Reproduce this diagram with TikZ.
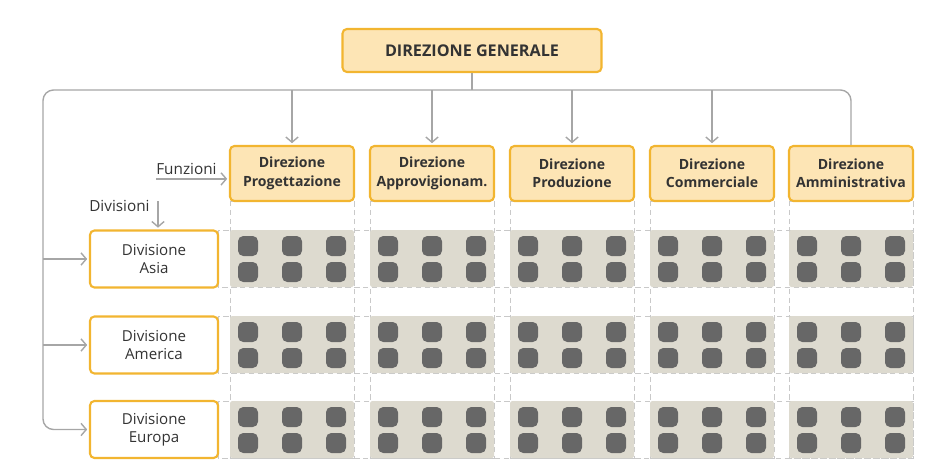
\documentclass[tikz,border=0pt]{standalone}
\usepackage{fontspec}
\setmainfont{Open Sans}
\usepackage{tikz}
\usetikzlibrary{arrows.meta,positioning}
\definecolor{boxgold}{HTML}{F2B530}
\definecolor{boxfill}{HTML}{FDE5B5}
\definecolor{txtgray}{HTML}{333333}
\definecolor{linegray}{HTML}{A6A6A6}
\definecolor{cellgray}{HTML}{DDDACF}
\definecolor{dotgray}{HTML}{676767}
\definecolor{dashgray}{HTML}{C9C9C9}

\begin{document}
\begin{tikzpicture}[x=0.02cm,y=-0.02cm,
  dirbox/.style={draw=boxgold,fill=boxfill,line width=1.2pt,rounded corners=2.5pt,text=txtgray,
    font=\fontsize{8}{10.5}\selectfont\bfseries,align=center,minimum width=2.48cm,minimum height=1.1cm,inner sep=1pt},
  divbox/.style={draw=boxgold,fill=white,line width=1.2pt,rounded corners=2.5pt,text=txtgray,
    font=\fontsize{8.6}{10.5}\selectfont,align=center,minimum width=2.56cm,minimum height=1.14cm},
  lbl/.style={text=txtgray,font=\fontsize{8.7}{10}\selectfont,inner sep=0pt},
  link/.style={draw=linegray,line width=0.8pt},
  arr/.style={link,-{Straight Barb[length=3pt,width=7pt]},shorten >=1pt},
  cell/.style={fill=cellgray,rounded corners=1pt},
  dot/.style={fill=dotgray,rounded corners=3pt},
  grid/.style={draw=dashgray,dash pattern=on 3pt off 2pt,line width=0.5pt}]
\useasboundingbox (0,0) rectangle (947,470);

% dashed grid of the matrix
\foreach \x in {230,370,510,650,789}
  \draw[grid] (\x,201) rectangle ++(124,257);
\foreach \y in {230,316,401}
  \draw[grid] (218,\y) rectangle (913,\y+57);

% cells with their units
\foreach \x in {230,370,510,650,789}
  \foreach \y in {230,316,401} {
    \fill[cell] (\x,\y) rectangle ++(124,57);
    \foreach \dx in {8,52,96}
      \foreach \dy in {6,32}
        \fill[dot] (\x+\dx,\y+\dy) rectangle ++(20,20);
  }

% top
\node[dirbox,minimum width=5.18cm,minimum height=0.86cm,font=\fontsize{9.2}{10}\selectfont\bfseries] (gen) at (472,50.5) {DIREZIONE GENERALE};

% functions
\node[dirbox] (prog) at (292,173.5) {Direzione\\Progettazione};
\node[dirbox] (appr) at (432,173.5) {Direzione\\Approvigionam.};
\node[dirbox] (prod) at (572,173.5) {Direzione\\Produzione};
\node[dirbox] (comm) at (712,173.5) {Direzione\\Commerciale};
\node[dirbox] (amm) at (851,173.5) {Direzione\\Amministrativa};

% divisions
\node[divbox] (asia) at (154,259) {Divisione\\Asia};
\node[divbox] (amer) at (154,345) {Divisione\\America};
\node[divbox] (eur) at (154,429.5) {Divisione\\Europa};

% connectors
\coordinate (busl) at (43,90);
\draw[link] (gen.south) -- (gen.south |- busl);
\draw[arr,rounded corners=6pt] (amm.north) |- (busl) |- (eur.west);
\draw[arr] (busl |- asia.west) -- (asia.west);
\draw[arr] (busl |- amer.west) -- (amer.west);
\foreach \n in {prog,appr,prod,comm}
  \draw[arr] (busl -| \n.north) -- (\n.north);

% axis labels
\node[lbl,anchor=south west] (funz) at (156,174.5) {Funzioni};
\draw[arr] ([yshift=-2.5]funz.south west) -- ([yshift=-2.5]funz.south west -| prog.west);
\node[lbl,anchor=south west] (divi) at (89,212) {Divisioni};
\coordinate (divtop) at (158,201);
\draw[arr] (divtop) -- (divtop |- asia.north);
\end{tikzpicture}
\end{document}
